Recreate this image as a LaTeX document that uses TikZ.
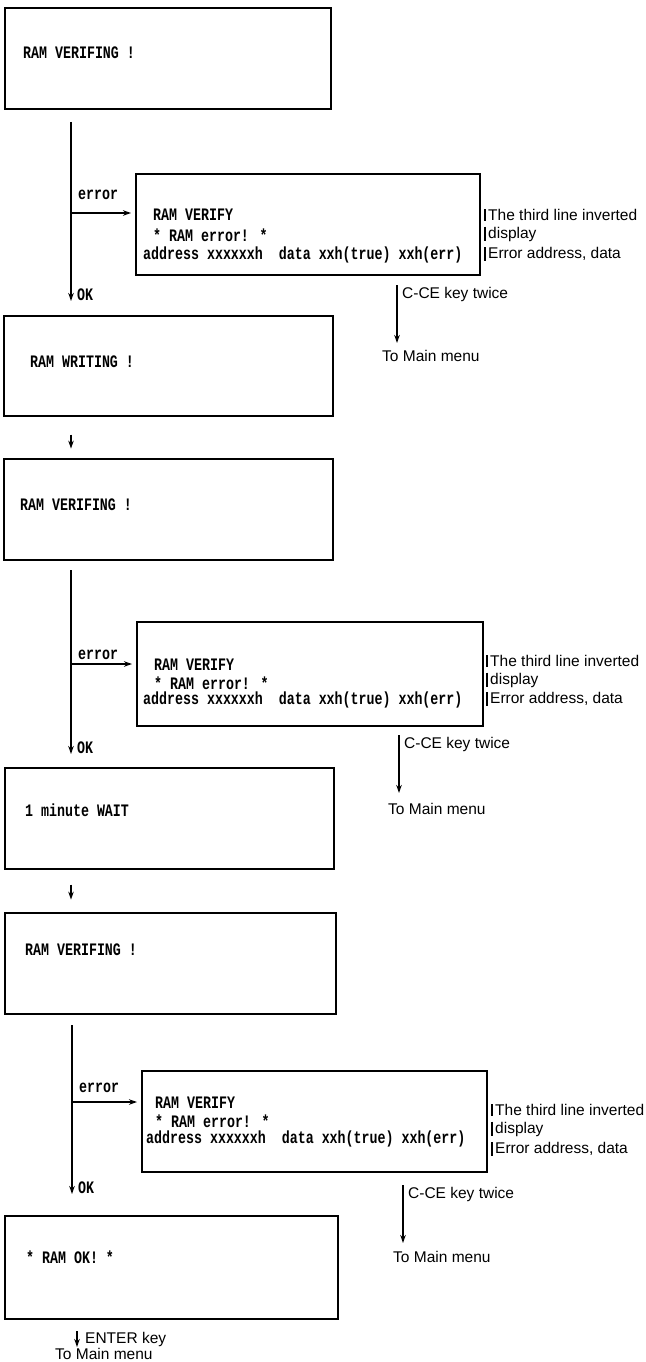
\documentclass[tikz,border=0pt]{standalone}
\usepackage{fontspec}
\setmainfont{Liberation Sans}
\newfontfamily\lcdfam[FakeStretch=0.76]{Liberation Mono}
\usetikzlibrary{arrows.meta,calc}
\newcommand\lcdf{\lcdfam\bfseries\fontsize{17.5}{19}\selectfont}
\newcommand\sansf{\fontsize{15.5}{17}\selectfont}
\tikzset{
  box/.style={draw, line width=1.6pt, anchor=north west, inner sep=0pt},
  lcdtxt/.style={anchor=west, inner sep=0pt, font=\lcdf},
  sanstxt/.style={anchor=west, inner sep=0pt, font=\sansf},
  conn/.style={line width=1.8pt},
  arr/.style={line width=1.6pt, -{Stealth[length=8pt,width=5.5pt]}},
}
\begin{document}
\begin{tikzpicture}[x=1pt,y=-1pt]
\useasboundingbox (0,0) rectangle (645,1362);

% ---------- Box 1
\node[box, minimum width=326pt, minimum height=101pt] (b1) at (4,7) {};
\node[lcdtxt] (b1t) at (23,53) {RAM VERIFING !};

% ---------- Branch 1
\coordinate (m1s) at (71,122);
\coordinate (m1j) at (71,213);
\coordinate (m1e) at (71,301);
\node[box, minimum width=344pt, minimum height=101pt] (e1) at (135,173) {};
\node[lcdtxt] (e1a) at (153,215) {RAM VERIFY};
\node[lcdtxt] (e1b) at (153,235) {* RAM error! *};
\node[lcdtxt] (e1c) at (143,255) {address xxxxxxh\ \ data xxh(true) xxh(err)};
\draw[arr] (m1s) -- (m1e);
\draw[arr, shorten >=4pt] (m1j) -- (m1j -| e1.west);
\node[lcdtxt] (er1) at (78,195) {error};
\node[lcdtxt] (ok1) at (77,295) {OK};
\node[sanstxt] (l1a) at (488,215) {The third line inverted};
\node[sanstxt] (l1b) at (488,234) {display};
\node[sanstxt] (l1c) at (488,254) {Error address, data};
\foreach \n in {l1a,l1b,l1c}
  \draw[conn] ([xshift=-3pt]\n.north west) -- ([xshift=-3pt]\n.south west);
\node[sanstxt] (c1) at (402,294) {C-CE key twice};
\coordinate (c1s) at (397,285);
\coordinate (c1e) at (397,343);
\draw[arr] (c1s) -- (c1e);
\node[sanstxt] (t1) at (382,356) {To Main menu};

% ---------- Box 2
\node[box, minimum width=329pt, minimum height=100pt] (b2) at (3,315) {};
\node[lcdtxt] (b2t) at (30,362) {RAM WRITING !};
\draw[arr] ($(b2.south west)+(68,18)$) coordinate (a2s) -- ($(b2.south west)+(68,32)$) coordinate (a2e);

% ---------- Box 3
\node[box, minimum width=329pt, minimum height=101pt] (b3) at (3,458) {};
\node[lcdtxt] (b3t) at (20,505) {RAM VERIFING !};

% ---------- Branch 2
\coordinate (m2s) at (71,570);
\coordinate (m2j) at (71,664);
\coordinate (m2e) at (71,754);
\node[box, minimum width=346pt, minimum height=104pt] (e2) at (136,621) {};
\node[lcdtxt] (e2a) at (154,665) {RAM VERIFY};
\node[lcdtxt] (e2b) at (154,683) {* RAM error! *};
\node[lcdtxt] (e2c) at (143,700) {address xxxxxxh\ \ data xxh(true) xxh(err)};
\draw[arr] (m2s) -- (m2e);
\draw[arr, shorten >=4pt] (m2j) -- (m2j -| e2.west);
\node[lcdtxt] (er2) at (78,655) {error};
\node[lcdtxt] (ok2) at (77,748) {OK};
\node[sanstxt] (l2a) at (490,661) {The third line inverted};
\node[sanstxt] (l2b) at (490,680) {display};
\node[sanstxt] (l2c) at (490,699) {Error address, data};
\foreach \n in {l2a,l2b,l2c}
  \draw[conn] ([xshift=-3pt]\n.north west) -- ([xshift=-3pt]\n.south west);
\node[sanstxt] (c2) at (404,744) {C-CE key twice};
\coordinate (c2s) at (399,735);
\coordinate (c2e) at (399,793);
\draw[arr] (c2s) -- (c2e);
\node[sanstxt] (t2) at (388,809) {To Main menu};

% ---------- Box 4
\node[box, minimum width=329pt, minimum height=101pt] (b4) at (4,767) {};
\node[lcdtxt] (b4t) at (25,810) {1 minute WAIT};
\draw[arr] ($(b4.south west)+(67,15)$) coordinate (a4s) -- ($(b4.south west)+(67,30)$) coordinate (a4e);

% ---------- Box 5
\node[box, minimum width=331pt, minimum height=101pt] (b5) at (4,912) {};
\node[lcdtxt] (b5t) at (25,950) {RAM VERIFING !};

% ---------- Branch 3
\coordinate (m3s) at (72,1025);
\coordinate (m3j) at (72,1102);
\coordinate (m3e) at (72,1194);
\node[box, minimum width=345pt, minimum height=101pt] (e3) at (141,1070) {};
\node[lcdtxt] (e3a) at (155,1103) {RAM VERIFY};
\node[lcdtxt] (e3b) at (155,1121) {* RAM error! *};
\node[lcdtxt] (e3c) at (146,1139) {address xxxxxxh\ \ data xxh(true) xxh(err)};
\draw[arr] (m3s) -- (m3e);
\draw[arr, shorten >=4pt] (m3j) -- (m3j -| e3.west);
\node[lcdtxt] (er3) at (79,1088) {error};
\node[lcdtxt] (ok3) at (78,1188) {OK};
\node[sanstxt] (l3a) at (495,1110) {The third line inverted};
\node[sanstxt] (l3b) at (495,1129) {display};
\node[sanstxt] (l3c) at (495,1149) {Error address, data};
\foreach \n in {l3a,l3b,l3c}
  \draw[conn] ([xshift=-3pt]\n.north west) -- ([xshift=-3pt]\n.south west);
\node[sanstxt] (c3) at (408,1194) {C-CE key twice};
\coordinate (c3s) at (403,1185);
\coordinate (c3e) at (403,1243);
\draw[arr] (c3s) -- (c3e);
\node[sanstxt] (t3) at (393,1257) {To Main menu};

% ---------- Box 6
\node[box, minimum width=333pt, minimum height=103pt] (b6) at (4,1215) {};
\node[lcdtxt] (b6t) at (26,1257) {* RAM OK! *};
\coordinate (a6s) at (77,1331);
\coordinate (a6e) at (77,1347);
\draw[arr] (a6s) -- (a6e);
\node[sanstxt] (ent) at (85,1339) {ENTER key};
\node[sanstxt] (t4) at (55,1354) {To Main menu};
\end{tikzpicture}
\end{document}
